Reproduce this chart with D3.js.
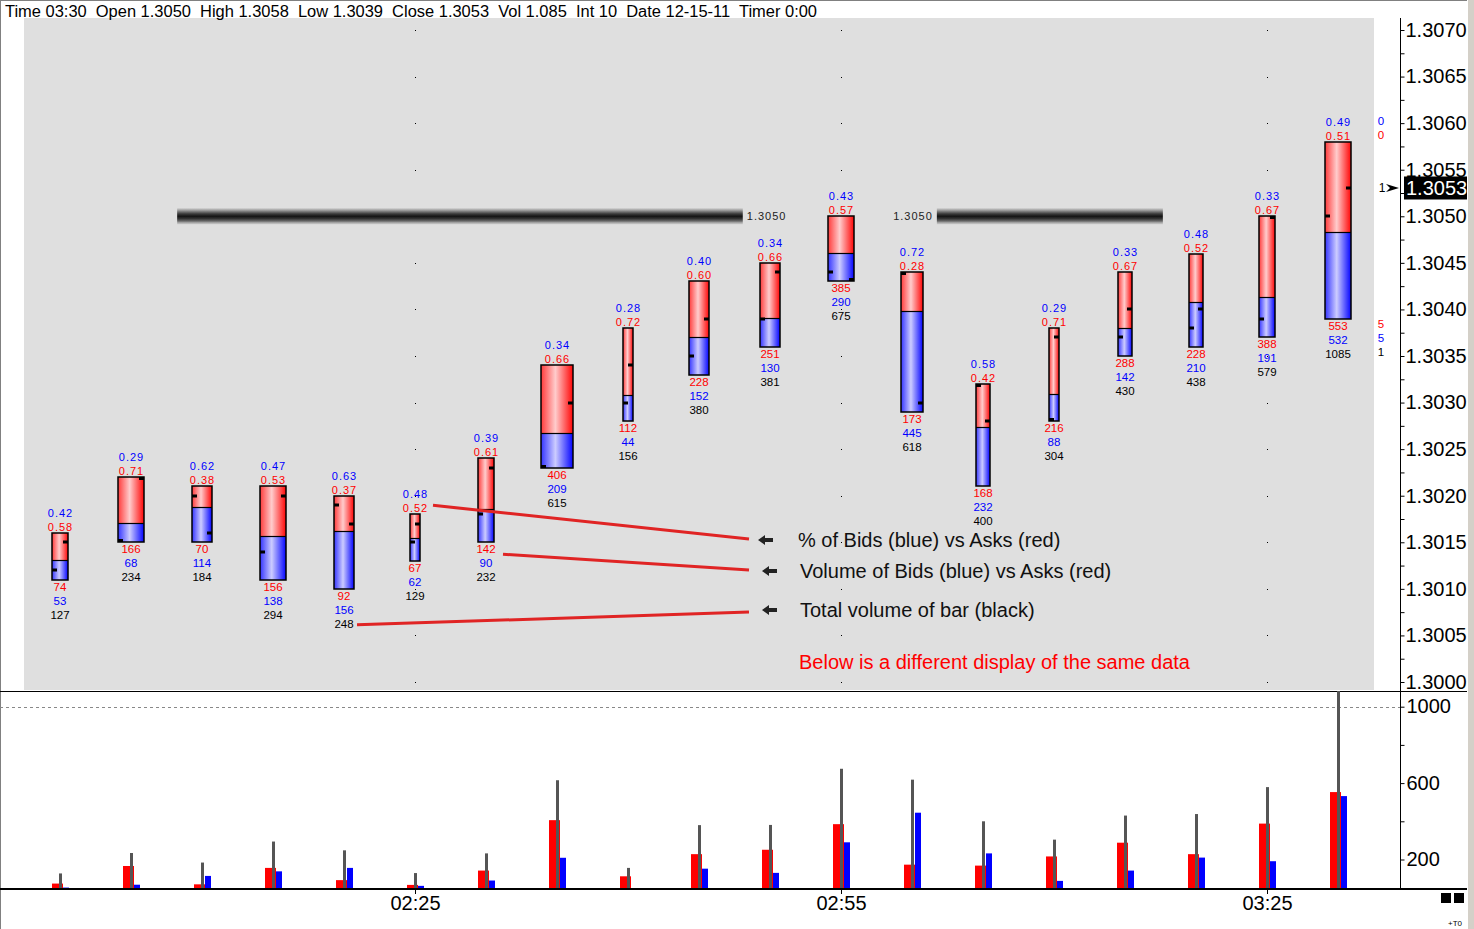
<!DOCTYPE html>
<html>
<head>
<meta charset="utf-8">
<script src="https://cdn.jsdelivr.net/npm/d3@7"></script>
<style>
  body { margin: 0; background: #fff; }
  svg { display: block; }
</style>
</head>
<body>
<div id="chart"></div>
<script>
// bar data (5 min bars, 12-15-11)
const barTimes = ["02:00", "02:05", "02:10", "02:15", "02:20", "02:25", "02:30", "02:35", "02:40", "02:45",
  "02:50", "02:55", "03:00", "03:05", "03:10", "03:15", "03:20", "03:25", "03:30"];
const openPrice  = [1.3012, 1.3015, 1.3020, 1.3014, 1.3019, 1.3015, 1.3018, 1.3023, 1.3030, 1.3035,
  1.3039, 1.3044, 1.3044, 1.3032, 1.3028, 1.3037, 1.3038, 1.3039, 1.3050];
const highPrice  = [1.3016, 1.3022, 1.3021, 1.3021, 1.3020, 1.3018, 1.3024, 1.3034, 1.3038, 1.3043,
  1.3045, 1.3050, 1.3044, 1.3032, 1.3038, 1.3044, 1.3046, 1.3050, 1.3058];
const lowPrice   = [1.3011, 1.3015, 1.3015, 1.3011, 1.3010, 1.3013, 1.3015, 1.3023, 1.3028, 1.3033,
  1.3036, 1.3043, 1.3029, 1.3021, 1.3028, 1.3035, 1.3036, 1.3037, 1.3039];
const closePrice = [1.3015, 1.3022, 1.3016, 1.3020, 1.3017, 1.3017, 1.3023, 1.3030, 1.3034, 1.3039,
  1.3044, 1.3043, 1.3030, 1.3028, 1.3037, 1.3040, 1.3040, 1.3050, 1.3053];
const askVolume  = [74, 166, 70, 156, 92, 67, 142, 406, 112, 228, 251, 385, 173, 168, 216, 288, 228, 388, 553];
const bidVolume  = [53, 68, 114, 138, 156, 62, 90, 209, 44, 152, 130, 290, 445, 232, 88, 142, 210, 191, 532];
const tradeUnits = [8, 13, 10, 13, 10, 5, 8, 16, 5, 10, 10, 13, 11, 7, 5, 7, 7, 8, 13];

// level lines
const levelPrice = [1.3050, 1.3050];
const levelFrom  = ["02:08:15", "03:01:45"];
const levelTo    = ["02:48:05", "03:17:40"];
const levelSide  = ["right", "left"];

// axes
const priceTicks  = [1.3000, 1.3005, 1.3010, 1.3015, 1.3020, 1.3025, 1.3030, 1.3035,
  1.3040, 1.3045, 1.3050, 1.3055, 1.3060, 1.3065, 1.3070];
const volumeTicks  = [200, 400, 600, 800, 1000];
const volumeLabels = [200, 600, 1000];
const timeTicks    = ["02:25", "02:55", "03:25"];

const notes = [
  "% of Bids (blue) vs Asks (red)",
  "Volume of Bids (blue) vs Asks (red)",
  "Total volume of bar (black)"
];

const W = 1474, H = 929;
const FONT = "'Liberation Sans', Arial, sans-serif";

const parseTime = d3.timeParse("%H:%M:%S");
const t = s => parseTime(s.length === 5 ? s + ":00" : s);

const x = d3.scaleTime().domain([t("02:00"), t("03:30")]).range([60, 1338]);
const y = d3.scaleLinear().domain([1.3000, 1.3070]).range([682, 30]);
const yVol = d3.scaleLinear().domain([0, 1000]).range([897.7, 706.7]);
const bodyW = d3.scaleLinear().domain([0, 16]).range([0, 32]);

const bars = barTimes.map((tm, i) => {
  const total = askVolume[i] + bidVolume[i];
  return {
    time: t(tm), open: openPrice[i], high: highPrice[i], low: lowPrice[i], close: closePrice[i],
    ask: askVolume[i], bid: bidVolume[i], total: total,
    askPct: askVolume[i] / total, bidPct: bidVolume[i] / total, units: tradeUnits[i]
  };
});

const svg = d3.select("#chart").append("svg")
  .attr("width", W).attr("height", H)
  .style("font-family", FONT);

// gradients
const defs = svg.append("defs");
function hGrad(id, stops) {
  const g = defs.append("linearGradient").attr("id", id)
    .attr("x1", "0%").attr("x2", "100%").attr("y1", "0%").attr("y2", "0%");
  stops.forEach(s => g.append("stop").attr("offset", s[0]).attr("stop-color", s[1]));
}
hGrad("gRed", [["0%", "#ff3a3a"], ["45%", "#ffcccc"], ["100%", "#ff0606"]]);
hGrad("gBlue", [["0%", "#3434ff"], ["45%", "#ccccff"], ["100%", "#0404ff"]]);
const band = defs.append("linearGradient").attr("id", "gBand")
  .attr("x1", "0%").attr("x2", "0%").attr("y1", "0%").attr("y2", "100%");
[["0%", "#c8c8c8"], ["10%", "#a8a8a8"], ["20%", "#7a7a7a"], ["35%", "#3a3a3a"], ["50%", "#141414"],
 ["65%", "#333"], ["80%", "#6a6a6a"], ["90%", "#a8a8a8"], ["100%", "#cdcdcd"]]
  .forEach(s => band.append("stop").attr("offset", s[0]).attr("stop-color", s[1]));

defs.append("clipPath").attr("id", "volClip")
  .append("rect").attr("x", 0).attr("y", 691).attr("width", 1400).attr("height", 198);

// frame
svg.append("rect").attr("width", W).attr("height", H).attr("fill", "#fff");
svg.append("rect").attr("x", 24).attr("y", 18).attr("width", 1350).attr("height", 672).attr("fill", "#dfdfdf");
svg.append("rect").attr("x", 1467).attr("y", 0).attr("width", 7).attr("height", H).attr("fill", "#d4d0c8");
svg.append("line").attr("x1", 1467.5).attr("x2", 1467.5).attr("y1", 0).attr("y2", H).attr("stroke", "#fff");
svg.append("line").attr("x1", 0.5).attr("x2", 0.5).attr("y1", 0).attr("y2", H).attr("stroke", "#808080");
svg.append("line").attr("x1", 0).attr("x2", 1467).attr("y1", 0.5).attr("y2", 0.5).attr("stroke", "#808080");

// header
const last = bars[bars.length - 1];
const volFmt = d3.formatLocale({ decimal: ",", thousands: ".", grouping: [3], currency: ["", ""] }).format(",");
const p4 = d3.format(".4f");
svg.append("text")
  .attr("x", 5).attr("y", 17)
  .style("white-space", "pre")
  .style("font-size", "16px")
  .attr("textLength", 812).attr("lengthAdjust", "spacingAndGlyphs")
  .text(`Time ${d3.timeFormat("%H:%M")(last.time)}  Open ${p4(last.open)}  High ${p4(last.high)}  Low ${p4(last.low)}  Close ${p4(last.close)}  Vol ${volFmt(last.total)}  Int 10  Date 12-15-11  Timer 0:00`);

// grid dots
const dots = svg.append("g");
timeTicks.forEach(tm => {
  priceTicks.forEach(p => {
    dots.append("rect").attr("x", Math.round(x(t(tm)))).attr("y", Math.round(y(p)))
      .attr("width", 1).attr("height", 1).attr("fill", "#000");
  });
});

// level bands
levelPrice.forEach((p, i) => {
  const x0 = x(t(levelFrom[i])), x1 = x(t(levelTo[i]));
  svg.append("rect").attr("x", x0).attr("y", y(p) - 8).attr("width", x1 - x0).attr("height", 16)
    .attr("fill", "url(#gBand)");
  svg.append("text")
    .attr("x", levelSide[i] === "right" ? x1 + 4 : x0 - 4)
    .attr("y", y(p)).attr("dy", "0.35em")
    .attr("text-anchor", levelSide[i] === "right" ? "start" : "end")
    .style("font-size", "11px").style("letter-spacing", "1px").attr("fill", "#222")
    .text(p4(p));
});

// price bars
const g = svg.append("g").selectAll("g").data(bars).enter().append("g");
g.each(function (d) {
  const sel = d3.select(this);
  const cx = Math.round(x(d.time)), w = bodyW(d.units);
  const left = cx - w / 2, top = Math.round(y(d.high)), bot = Math.round(y(d.low));
  const split = Math.round(top + (bot - top) * d.askPct);
  sel.append("rect").attr("x", left).attr("y", top).attr("width", w).attr("height", split - top)
    .attr("fill", "url(#gRed)");
  sel.append("rect").attr("x", left).attr("y", split).attr("width", w).attr("height", bot - split)
    .attr("fill", "url(#gBlue)");
  sel.append("line").attr("x1", left).attr("x2", left + w).attr("y1", split + 0.5).attr("y2", split + 0.5)
    .attr("stroke", "#000").attr("stroke-width", 1.2);
  sel.append("rect").attr("x", left).attr("y", top).attr("width", w).attr("height", bot - top)
    .attr("fill", "none").attr("stroke", "#000").attr("stroke-width", 1.5);
  const tickY = p => Math.max(top, Math.min(bot - 3, Math.round(y(p)) - 1.5));
  sel.append("rect").attr("x", left).attr("y", tickY(d.open)).attr("width", 5).attr("height", 3).attr("fill", "#000");
  sel.append("rect").attr("x", left + w - 5).attr("y", tickY(d.close)).attr("width", 5).attr("height", 3).attr("fill", "#000");

  const lab = (yy, txt, col, pct) => sel.append("text")
    .attr("x", cx + (pct ? 0.5 : 0)).attr("y", yy).attr("dy", "0.35em")
    .attr("text-anchor", "middle").attr("fill", col)
    .style("font-size", pct ? "11px" : "11.5px").style("letter-spacing", pct ? "1px" : "0px")
    .text(txt);
  lab(top - 19.5, d.bidPct.toFixed(2), "#0000ff", true);
  lab(top - 5.5, d.askPct.toFixed(2), "#ff0000", true);
  lab(bot + 6.5, d.ask, "#ff0000", false);
  lab(bot + 20.5, d.bid, "#0000ff", false);
  lab(bot + 34.5, d.total, "#000", false);
});

// forming bar labels beside the axis
[[121, "0", "#0000ff"], [135, "0", "#ff0000"], [324, "5", "#ff0000"], [338, "5", "#0000ff"], [352, "1", "#000"]]
  .forEach(l => svg.append("text").attr("x", 1381).attr("y", l[0]).attr("dy", "0.35em")
    .attr("text-anchor", "middle").attr("fill", l[2]).style("font-size", "11.5px").text(l[1]));

// annotations
const b5 = bars[4], b6 = bars[5], b7 = bars[6];
const noteY = [540, 571, 610];
const lineStarts = [
  [x(b6.time) + 18, y(b6.high) - 9],
  [x(b7.time) + 17, y(b7.low) + 12],
  [x(b5.time) + 13, y(b5.low) + 36]
];
const lineEnds = [[749, 539], [749, 570], [749, 612]];
lineStarts.forEach((s, i) => {
  svg.append("line").attr("x1", s[0]).attr("y1", s[1]).attr("x2", lineEnds[i][0]).attr("y2", lineEnds[i][1])
    .attr("stroke", "#e02424").attr("stroke-width", 3);
});
notes.forEach((n, i) => {
  const ax = i === 0 ? 758 : 762, ay = noteY[i];
  svg.append("path")
    .attr("d", `M${ax},${ay} L${ax + 7},${ay - 5} L${ax + 7},${ay - 2} L${ax + 15},${ay - 2} L${ax + 15},${ay + 2} L${ax + 7},${ay + 2} L${ax + 7},${ay + 5} Z`)
    .attr("fill", "#222");
  svg.append("text").attr("x", i === 0 ? 798 : 800).attr("y", ay).attr("dy", "0.35em")
    .style("font-size", "20px").attr("fill", "#111").text(n);
});
svg.append("text").attr("x", 799).attr("y", 662).attr("dy", "0.35em")
  .style("font-size", "20px").attr("fill", "#ff0000").text("Below is a different display of the same data");

// price axis
svg.append("line").attr("x1", 1400.5).attr("x2", 1400.5).attr("y1", 18).attr("y2", 691).attr("stroke", "#000");
const minorTicks = d3.pairs(priceTicks).map(p => (p[0] + p[1]) / 2);
svg.append("g").attr("transform", "translate(1400.5,0)")
  .call(d3.axisRight(y).tickValues(minorTicks).tickSize(4).tickFormat(""))
  .call(a => a.select(".domain").remove());
svg.append("g").attr("transform", "translate(1400.5,0)")
  .call(d3.axisRight(y).tickValues(priceTicks).tickSize(4).tickPadding(1).tickFormat(p4))
  .call(a => a.select(".domain").remove())
  .call(a => a.selectAll("text").style("font-size", "20px").style("font-family", FONT).attr("fill", "#000"));

// current price marker
const cy = Math.round(y(last.close));
svg.append("text").attr("x", 1382).attr("y", cy).attr("dy", "0.35em").attr("text-anchor", "middle")
  .style("font-size", "12px").text("1");
svg.append("path").attr("d", `M1386,${cy - 4} L1399,${cy} L1386,${cy + 4} L1390,${cy} Z`).attr("fill", "#000");
svg.append("rect").attr("x", 1404).attr("y", cy - 11.5).attr("width", 63).attr("height", 23).attr("fill", "#000");
svg.append("text").attr("x", 1406).attr("y", cy).attr("dy", "0.35em").attr("fill", "#fff")
  .style("font-size", "20px").text(p4(last.close));

// volume panel
svg.append("line").attr("x1", 0).attr("x2", 1467).attr("y1", 691.5).attr("y2", 691.5).attr("stroke", "#000");
svg.append("line").attr("x1", 0).attr("x2", 1400).attr("y1", Math.round(yVol(1000)) + 0.5).attr("y2", Math.round(yVol(1000)) + 0.5)
  .attr("stroke", "#888").attr("stroke-dasharray", "3,3");

const vol = svg.append("g").attr("clip-path", "url(#volClip)");
vol.selectAll(".ask").data(bars).enter().append("rect")
  .attr("x", d => Math.round(x(d.time)) - 8).attr("width", 11)
  .attr("y", d => yVol(d.ask)).attr("height", d => yVol(0) - yVol(d.ask))
  .attr("fill", "#ff0000");
vol.selectAll(".bid").data(bars).enter().append("rect")
  .attr("x", d => Math.round(x(d.time)) + 3).attr("width", 6)
  .attr("y", d => yVol(d.bid)).attr("height", d => yVol(0) - yVol(d.bid))
  .attr("fill", "#0000ff");
vol.selectAll(".tot").data(bars).enter().append("rect")
  .attr("x", d => Math.round(x(d.time)) - 1).attr("width", 3)
  .attr("y", d => yVol(d.total)).attr("height", d => yVol(0) - yVol(d.total))
  .attr("fill", "#555");

svg.append("line").attr("x1", 1400.5).attr("x2", 1400.5).attr("y1", 691).attr("y2", 889).attr("stroke", "#000");
svg.append("g").attr("transform", "translate(1400.5,0)")
  .call(d3.axisRight(yVol).tickValues(volumeTicks).tickSize(4).tickPadding(2)
    .tickFormat(v => volumeLabels.includes(v) ? v : ""))
  .call(a => a.select(".domain").remove())
  .call(a => a.selectAll("text").attr("dy", "0.3em").style("font-size", "20px").style("font-family", FONT));

// time axis
svg.append("line").attr("x1", 0).attr("x2", 1467).attr("y1", 889).attr("y2", 889).attr("stroke", "#000").attr("stroke-width", 2);
svg.append("g").attr("transform", "translate(0,889)")
  .call(d3.axisBottom(x).tickValues(timeTicks.map(t)).tickSize(5).tickPadding(2).tickFormat(d3.timeFormat("%H:%M")))
  .call(a => a.select(".domain").remove())
  .call(a => a.selectAll("text").style("font-size", "20px").style("font-family", FONT));

svg.append("rect").attr("x", 1441).attr("y", 893).attr("width", 10).attr("height", 10).attr("fill", "#000");
svg.append("rect").attr("x", 1454).attr("y", 893).attr("width", 10).attr("height", 10).attr("fill", "#000");
svg.append("text").attr("x", 1448).attr("y", 926).style("font-size", "8px").text("+T0");
</script>
</body>
</html>
